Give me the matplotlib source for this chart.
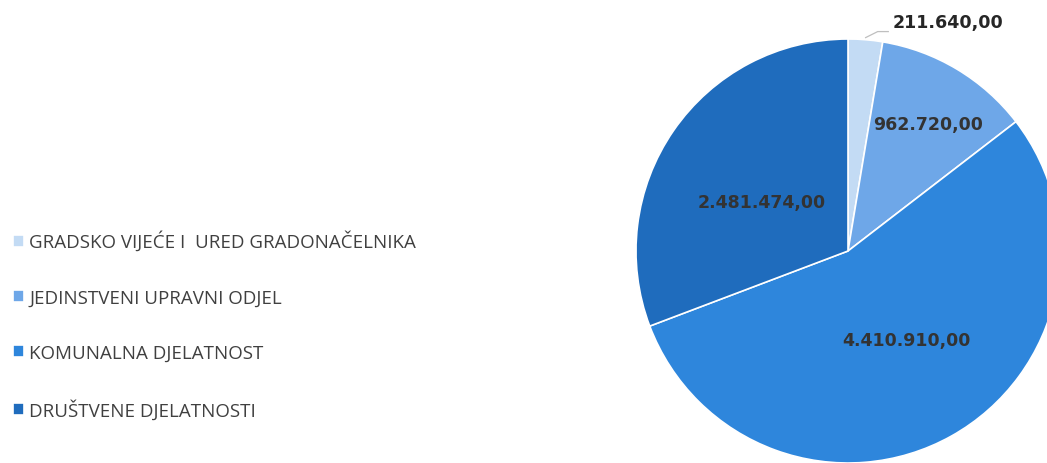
import numpy as np
import matplotlib.pyplot as plt

labels = ["GRADSKO VIJEĆE I  URED GRADONAČELNIKA", "JEDINSTVENI UPRAVNI ODJEL",
          "KOMUNALNA DJELATNOST", "DRUŠTVENE DJELATNOSTI"]
values = [211640.00, 962720.00, 4410910.00, 2481474.00]
value_labels = ["211.640,00", "962.720,00", "4.410.910,00", "2.481.474,00"]
colors = ["#c3dbf4", "#6ea7e8", "#2e86dc", "#1f6cbd"]


def main():
    fig = plt.figure(figsize=(10.47, 4.64), dpi=100)
    ax = fig.add_axes([0, 0, 1, 1])

    wedges, _ = ax.pie(values, colors=colors, startangle=90, counterclock=False,
                       radius=1.0, wedgeprops=dict(edgecolor="white", linewidth=1.2))

    # label placement (radius, angle shift) per slice
    place = [None, (0.71, -1.3), (0.50, 4.2), (0.47, 4.9)]
    for w, txt, p in zip(wedges, value_labels, place):
        mid = np.deg2rad((w.theta1 + w.theta2) / 2)
        if p is None:
            # small slice: label outside with a leader line
            x0, y0 = 1.01 * np.cos(mid), 1.01 * np.sin(mid)
            ax.plot([x0, 0.14, 0.19], [y0, 1.035, 1.035], color="#bfbfbf", lw=0.9)
            ax.text(0.212, 1.08, txt, ha="left", va="center",
                    fontsize=12.6, fontweight="bold", color="#262626")
            continue
        r, shift = p
        a = mid + np.deg2rad(shift)
        ax.text(r * np.cos(a), r * np.sin(a), txt, ha="center", va="center",
                fontsize=12.5, fontweight="bold", color="#333333")

    ax.set_xlim(-848 / 212, (1047 - 848) / 212)
    ax.set_ylim(-212 / 212, (464 - 212) / 212)
    ax.set_aspect("equal")
    ax.axis("off")

    fig.legend(wedges, labels, loc="center left", bbox_to_anchor=(0.0, 0.297),
               frameon=False, labelspacing=1.99, handlelength=0.6,
               handleheight=0.6, handletextpad=0.25, borderaxespad=0.3,
               labelcolor="#404040", prop={"family": "Open Sans", "size": 13.5})

    plt.savefig("out.png", dpi=100)


main()
